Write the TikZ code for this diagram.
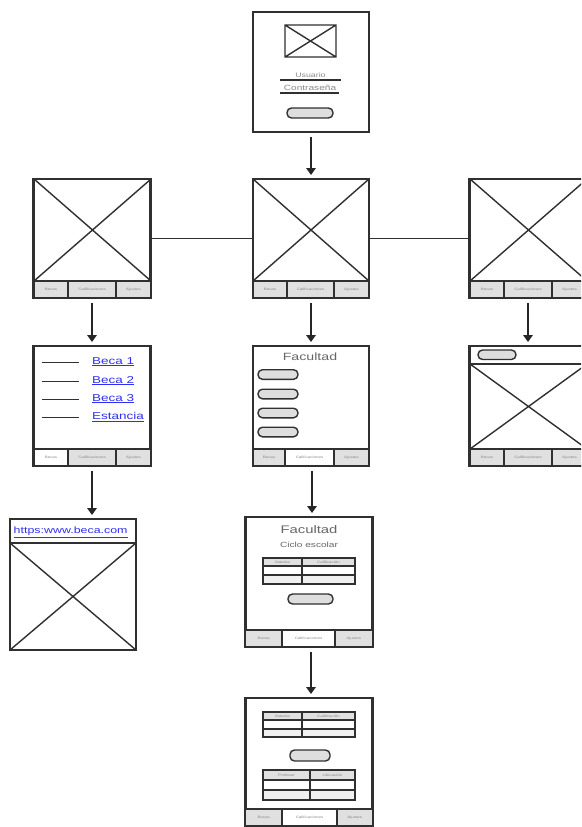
\documentclass[tikz,border=0pt]{standalone}
\usepackage{fontspec}
\setmainfont[FakeStretch=1.35]{Liberation Sans}
\usetikzlibrary{arrows.meta}

\definecolor{frame}{HTML}{303030}
\definecolor{tabfill}{HTML}{E0E0E0}
\definecolor{btnfill}{HTML}{DEDEDE}
\definecolor{linkblue}{HTML}{2F2FF2}
\definecolor{faint}{HTML}{8A8A8A}

\tikzset{
  screen/.style={draw=frame, line width=2.1pt, fill=white, inner sep=0pt, outer sep=0pt},
  cross/.style={draw=frame, line width=1.4pt},
  tabcell/.style={draw=frame, line width=1.8pt, fill=tabfill},
  tabsel/.style={draw=frame, line width=1.8pt, fill=white},
  tablabel/.style={font=\fontsize{3.3}{4}\selectfont, text=faint, inner sep=0pt},
  btn/.style={draw=frame, line width=1.4pt, fill=btnfill, rounded corners=4.5pt},
  flow/.style={draw=black!85, line width=2pt, -{Triangle[length=7pt,width=9.5pt]},
    shorten <=5pt, shorten >=4pt},
  link/.style={draw=frame, line width=1.3pt},
  url/.style={text=linkblue, inner sep=0pt, anchor=west},
  urlline/.style={draw=linkblue, line width=0.9pt},
  bullet/.style={draw=frame, line width=1.6pt},
  grid/.style={draw=frame, line width=1.8pt},
  head/.style={font=\fontsize{3.3}{4}\selectfont, text=faint, inner sep=0pt},
  title/.style={text=black!60, inner sep=0pt},
}

% bottom tab bar: name prefix, x1, y1, x2, y2, first split, second split, selected tab (0 = none)
\newcommand\wfTabs[8]{%
  \path[tabcell] (#2,#3) rectangle (#6,#5);
  \path[tabcell] (#6,#3) rectangle (#7,#5);
  \path[tabcell] (#7,#3) rectangle (#4,#5);
  \ifcase#8\or
    \path[tabsel] (#2,#3) rectangle (#6,#5);\or
    \path[tabsel] (#6,#3) rectangle (#7,#5);\or
    \path[tabsel] (#7,#3) rectangle (#4,#5);\fi
  \node[tablabel] (#1-a) at ({(#2+#6)/2},{(#3+#5)/2}) {Becas};
  \node[tablabel] (#1-b) at ({(#6+#7)/2},{(#3+#5)/2}) {Calificaciones};
  \node[tablabel] (#1-c) at ({(#7+#4)/2},{(#3+#5)/2}) {Ajustes};
}

% two-column table: name prefix, x1, y1, x2, y2, row line 1, row line 2, column split
\newcommand\wfTable[8]{%
  \path[fill=tabfill] (#2,#3) rectangle (#4,#6);
  \path[fill=black!6] (#2,#7) rectangle (#4,#5);
  \draw[grid] (#2,#3) rectangle (#4,#5);
  \draw[grid] (#2,#6) -- (#4,#6) (#2,#7) -- (#4,#7) (#8,#3) -- (#8,#5);
  \wfTableHeads{#1}{#2}{#3}{#4}{#6}{#8}%
}
\newcommand\wfTableHeads[6]{%
  \node[head] (#1-l) at ({(#2+#6)/2},{(#3+#5)/2}) {\wfHeadL};
  \node[head] (#1-r) at ({(#6+#4)/2},{(#3+#5)/2}) {\wfHeadR};
}
\newcommand\wfHeadL{Materia}
\newcommand\wfHeadR{Calificación}

\begin{document}
\begin{tikzpicture}[x=1pt, y=-1pt]
  \useasboundingbox (0,0) rectangle (581,827);
  \fill[white] (0,0) rectangle (581,827);
  \clip (0,0) rectangle (581,827);

  % ---------- login ----------
  \node[screen, minimum width=116pt, minimum height=120pt] (login) at (311,72) {};
  \draw[cross] (285,25) rectangle (336,57) (285,25) -- (336,57) (285,57) -- (336,25);
  \node[title, font=\fontsize{6.5}{7}\selectfont, text=faint] (user) at (310.5,75) {Usuario};
  \draw[link] (280,80) -- (341,80);
  \node[title, font=\fontsize{7.5}{8}\selectfont, text=faint] (pass) at (310,88) {Contraseña};
  \draw[link] (280,93) -- (339,93);
  \path[btn] (287,108) rectangle (333,118);

  % ---------- home screens ----------
  \node[screen, minimum width=117pt, minimum height=119pt] (homeL) at (92,238.5) {};
  \draw[cross] (34,179) -- (151,281) (34,281) -- (151,179);
  \wfTabs{tL}{34}{281}{151}{298}{68}{116}{0}

  \node[screen, minimum width=116pt, minimum height=119pt] (homeC) at (311,238.5) {};
  \draw[cross] (253,179) -- (369,281) (253,281) -- (369,179);
  \wfTabs{tC}{253}{281}{369}{298}{287}{334}{0}

  \node[screen, minimum width=117pt, minimum height=119pt] (homeR) at (528,238.5) {};
  \draw[cross] (470,179) -- (587,281) (470,281) -- (587,179);
  \wfTabs{tR}{470}{281}{587}{298}{504}{552}{0}

  \draw[line width=1.4pt, draw=frame] (homeL) -- (homeC);
  \draw[line width=1.4pt, draw=frame] (homeC) -- (homeR);

  % ---------- scholarship list ----------
  \node[screen, minimum width=117pt, minimum height=120pt] (becas) at (92,406) {};
  \foreach \yy/\lbl/\nm in {361/Beca 1/b1, 380/Beca 2/b2, 398/Beca 3/b3, 416/Estancia/b4} {
    \draw[bullet] (42,\yy+1.5) -- (79,\yy+1.5);
    \node[url, font=\fontsize{10}{11}\selectfont] (\nm) at (92,\yy) {\lbl};
    \draw[urlline] ([yshift=-1.2pt]\nm.south west) -- ([yshift=-1.2pt]\nm.south east);
  }
  \wfTabs{tB}{34}{449}{151}{466}{68}{116}{1}

  % ---------- faculty menu ----------
  \node[screen, minimum width=116pt, minimum height=120pt] (facu) at (311,406) {};
  \node[title, font=\fontsize{10.5}{11}\selectfont] (facuT) at (310,357) {Facultad};
  \foreach \yy in {374.5, 394, 413, 432} {
    \path[btn] (258,\yy-4.8) rectangle (298,\yy+4.8);
  }
  \wfTabs{tF}{253}{449}{369}{466}{285}{334}{2}

  % ---------- map / settings ----------
  \node[screen, minimum width=117pt, minimum height=120pt] (mapa) at (528,406) {};
  \draw[cross] (470,364) -- (587,364);
  \path[btn] (478,350) rectangle (516,359.5);
  \draw[cross] (470,364) -- (587,449) (470,449) -- (587,364);
  \wfTabs{tM}{470}{449}{587}{466}{504}{552}{0}

  % ---------- web page ----------
  \node[screen, minimum width=126pt, minimum height=131pt] (web) at (73,584.5) {};
  \draw[cross] (10,543) -- (136,543);
  \node[url, font=\fontsize{9.2}{10}\selectfont] (addr) at (13.5,531.5) {https:www.beca.com};
  \draw[urlline] ([yshift=-1pt]addr.south west) -- ([yshift=-1pt]addr.south east);
  \draw[cross] (10,543) -- (136,650) (10,650) -- (136,543);

  % ---------- school cycle ----------
  \node[screen, minimum width=127pt, minimum height=130pt] (ciclo) at (309,582) {};
  \node[title, font=\fontsize{11}{12}\selectfont] (cicloT) at (309,530) {Facultad};
  \node[title, font=\fontsize{7.5}{8}\selectfont] (cicloS) at (309,545) {Ciclo escolar};
  \wfTable{tab1}{263}{558}{355}{584}{566}{575}{302}
  \path[btn] (288,594) rectangle (333,604);
  \wfTabs{tS}{245.5}{630}{372.5}{647}{282}{335}{2}

  % ---------- grades ----------
  \node[screen, minimum width=127pt, minimum height=128pt] (notas) at (309,762) {};
  \wfTable{tab2}{263}{712}{355}{737}{720}{729}{302}
  \path[btn] (290,750) rectangle (330,761);
  \renewcommand\wfHeadL{Profesor}
  \renewcommand\wfHeadR{Ubicación}
  \wfTable{tab3}{263}{770}{355}{800}{780}{790}{310}
  \wfTabs{tN}{245.5}{809}{372.5}{826}{282}{337}{2}

  % ---------- flow ----------
  \draw[flow] (login) -- (homeC);
  \draw[flow] (homeL) -- (becas);
  \draw[flow] (homeC) -- (facu);
  \draw[flow] (homeR) -- (mapa);
  \draw[flow] (becas.south) -- (becas.south |- web.north);
  \draw[flow] ([xshift=1pt]facu.south) -- ([xshift=1pt]facu.south |- ciclo.north);
  \draw[flow] ([xshift=2pt]ciclo.south) -- ([xshift=2pt]ciclo.south |- notas.north);
\end{tikzpicture}
\end{document}
